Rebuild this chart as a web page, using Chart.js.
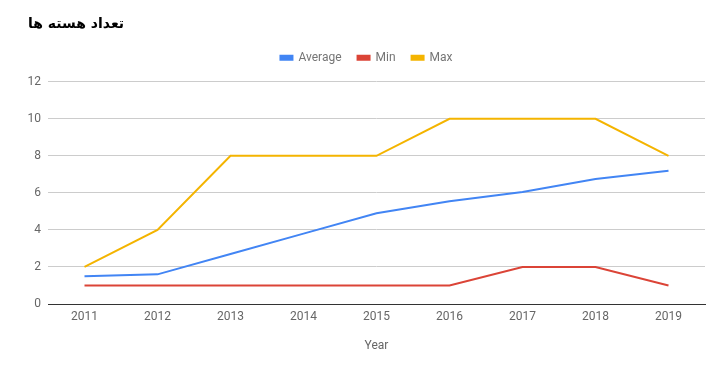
<!DOCTYPE html>
<html>
<head>
<meta charset="utf-8">
<script src="https://cdn.jsdelivr.net/npm/chart.js@4"></script>
<style>
  body { margin: 0; background: #fff; }
  #wrap { width: 713px; height: 376px; position: relative; }
</style>
</head>
<body>
<div id="wrap"><canvas id="chart"></canvas></div>
<script>
const years = ['2011', '2012', '2013', '2014', '2015', '2016', '2017', '2018', '2019'];
const averageVals = [1.5, 1.6, 2.7, 3.8, 4.9, 5.55, 6.05, 6.75, 7.2];
const minVals = [1, 1, 1, 1, 1, 1, 2, 2, 1];
const maxVals = [2, 4, 8, 8, 8, 10, 10, 10, 8];
const yTicks = [0, 2, 4, 6, 8, 10, 12];

const tickFont = { family: 'Roboto', size: 12 };

function makeSet(label, data, color) {
    return {
        label,
        data,
        borderColor: color,
        backgroundColor: color,
        borderWidth: 2,
        pointRadius: 0,
        tension: 0
    };
}

// extra gap below the legend
const legendGap = {
    id: 'legendGap',
    afterInit(chart) {
        const legend = chart.legend;
        if (!legend) return;
        const origFit = legend.fit;
        legend.fit = function () {
            origFit.call(this);
            this.height += 8;
        };
    }
};

const ctx = document.getElementById('chart').getContext('2d');
new Chart(ctx, {
    type: 'line',
    data: {
        labels: years,
        datasets: [
            makeSet('Average', averageVals, '#4285f4'),
            makeSet('Min', minVals, '#db4437'),
            makeSet('Max', maxVals, '#f4b400')
        ]
    },
    options: {
        responsive: true,
        maintainAspectRatio: false,
        animation: false,
        layout: { padding: { left: 28, right: 8, top: 0, bottom: 0 } },
        plugins: {
            title: {
                display: true,
                text: 'تعداد هسته ها',
                align: 'start',
                color: '#000',
                font: { family: 'DejaVu Sans', size: 14, weight: 'bold' },
                padding: { top: 16, bottom: 3 }
            },
            legend: {
                position: 'top',
                labels: {
                    boxWidth: 12,
                    boxHeight: 4,
                    color: '#757575',
                    font: tickFont,
                    padding: 16
                }
            },
            tooltip: { enabled: false }
        },
        scales: {
            x: {
                offset: true,
                grid: { display: false, drawTicks: false, offset: true },
                border: { display: true, color: '#333', width: 1 },
                ticks: { color: '#666', font: tickFont, padding: 6, maxRotation: 0 },
                title: { display: true, text: 'Year', color: '#666', font: tickFont, padding: { top: 4, bottom: 23 } },
                afterFit: s => { s.height = 72; }
            },
            y: {
                min: 0,
                max: 12,
                afterBuildTicks: s => { s.ticks = yTicks.map(v => ({ value: v })); },
                grid: { color: '#ccc', drawTicks: false },
                border: { display: false },
                ticks: { color: '#666', font: tickFont, padding: 7 },
                afterFit: s => { s.width = 20; }
            }
        }
    },
    plugins: [legendGap]
});
</script>
</body>
</html>
